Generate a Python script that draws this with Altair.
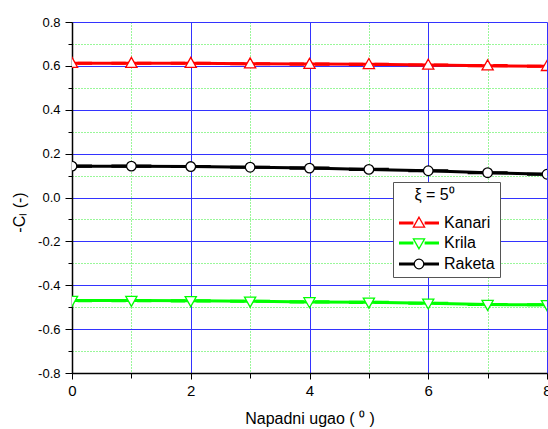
import altair as alt
import pandas as pd

# ---- data ----
angles = [0, 1, 2, 3, 4, 5, 6, 7, 8]
kanari = [0.612, 0.612, 0.612, 0.610, 0.608, 0.607, 0.604, 0.601, 0.598]
krila = [-0.470, -0.470, -0.471, -0.473, -0.476, -0.478, -0.482, -0.488, -0.489]
raketa = [0.143, 0.143, 0.141, 0.138, 0.134, 0.128, 0.122, 0.113, 0.106]

series_names = ["Kanari", "Krila", "Raketa"]
series_colors = ["#ff0000", "#00ff00", "#000000"]

major_x = [0, 2, 4, 6, 8]
minor_x = [1, 3, 5, 7]
major_y = [-0.8, -0.6, -0.4, -0.2, 0.0, 0.2, 0.4, 0.6, 0.8]
minor_y = [-0.7, -0.5, -0.3, -0.1, 0.1, 0.3, 0.5, 0.7]

# ---- marker symbols: short line stubs + hollow marker (used in plot and legend) ----
def stubs(e):
    s = ""
    for dy in (-0.09, 0, 0.09):
        s += f"M -2 {dy} L {-e} {dy} M {e} {dy} L 2 {dy} "
    return s

sym_up = stubs(0.56) + "M 0 -0.58 L 0.56 0.42 L -0.56 0.42 Z"
sym_down = stubs(0.56) + "M 0 0.58 L 0.56 -0.42 L -0.56 -0.42 Z"
sym_circle = stubs(0.48) + "M 0.48 0 A 0.48 0.48 0 1 1 -0.48 0 A 0.48 0.48 0 1 1 0.48 0 Z"
series_shapes = [sym_up, sym_down, sym_circle]

df = pd.DataFrame({
    "angle": angles * 3,
    "value": kanari + krila + raketa,
    "series": [n for n in series_names for _ in angles],
})

FONT = "Liberation Sans"
xdom = [0, 8]
ydom = [-0.8, 0.8]
LEGEND_TITLE = "\u2800\u00a0\u03be = 5\u2070"
MINUS_FIX = "replace(format(datum.value, '.1f'), '\u2212', '-')"


def xscale():
    return alt.Scale(domain=xdom, nice=False, zero=False)


def yscale():
    return alt.Scale(domain=ydom, nice=False, zero=False)


GRID_BLUE = "#3333ff"
GRID_GREEN = "#33ee33"

x_main = alt.Axis(
    orient="bottom", values=major_x, format="d", title="Napadni ugao ( \u2070 )",
    grid=True, gridColor=GRID_BLUE, gridWidth=1,
    tickSize=6, tickColor="black", tickWidth=1,
    domainColor="black", domainWidth=1.5,
    labelFontSize=15, labelFont=FONT, labelColor="black", labelPadding=4, labelFlush=False,
    titleFontSize=16, titleFont=FONT, titleFontWeight="normal", titleColor="black", titlePadding=12,
)
y_main = alt.Axis(
    orient="left", values=major_y, labelExpr=MINUS_FIX, title="-C\u2097 (-)",
    grid=True, gridColor=GRID_BLUE, gridWidth=1,
    tickSize=7, tickColor="black", tickWidth=1,
    domainColor="black", domainWidth=1.5,
    labelFontSize=13, labelFont=FONT, labelColor="black", labelPadding=5,
    titleFontSize=16, titleFont=FONT, titleFontWeight="normal", titleColor="black",
    titlePadding=10, titleY=190,
)
x_minor = alt.Axis(
    orient="bottom", values=minor_x, labels=False, title=None, domain=False,
    grid=True, gridColor=GRID_GREEN, gridDash=[1, 2], gridWidth=1,
    tickSize=5, tickColor="black", tickWidth=1,
)
y_minor = alt.Axis(
    orient="left", values=minor_y, labels=False, title=None, domain=False,
    grid=True, gridColor=GRID_GREEN, gridDash=[1, 2], gridWidth=1,
    tickSize=4, tickColor="black", tickWidth=1,
)

minor_layer = alt.Chart(df).mark_point(opacity=0).encode(
    x=alt.X("angle:Q", scale=xscale(), axis=x_minor),
    y=alt.Y("value:Q", scale=yscale(), axis=y_minor),
)

color_scale = alt.Scale(domain=series_names, range=series_colors)

legend = alt.Legend(
    title=LEGEND_TITLE, orient="none", legendX=321, legendY=160, direction="vertical",
    symbolSize=400, symbolStrokeWidth=1.3, symbolFillColor="white", symbolOffset=10,
    labelFontSize=16, labelFont=FONT, labelColor="black", labelOffset=14,
    titleFontSize=16, titleFont=FONT, titleFontWeight="normal", titleColor="black",
    titleAnchor="start", titlePadding=9,
    padding=5, strokeColor="#555555", fillColor="white", cornerRadius=0, rowPadding=1,
)

lines = alt.Chart(df).mark_line(strokeWidth=3, clip=True).encode(
    x=alt.X("angle:Q", scale=xscale(), axis=x_main),
    y=alt.Y("value:Q", scale=yscale(), axis=y_main),
    color=alt.Color("series:N", scale=color_scale, title=LEGEND_TITLE, legend=legend),
)

points = alt.Chart(df).mark_point(filled=False, fill="white", fillOpacity=1, size=400,
                                  strokeWidth=1.3, clip=True).encode(
    x=alt.X("angle:Q", scale=xscale(), axis=None),
    y=alt.Y("value:Q", scale=yscale(), axis=None),
    color=alt.Color("series:N", scale=color_scale, title=LEGEND_TITLE, legend=legend),
    shape=alt.Shape("series:N", scale=alt.Scale(domain=series_names, range=series_shapes),
                    title=LEGEND_TITLE, legend=legend),
)

chart = alt.layer(minor_layer, lines, points).resolve_scale(
    x="independent", y="independent"
).resolve_axis(
    x="independent", y="independent"
).properties(
    width=475, height=351,
    autosize=alt.AutoSizeParams(type="none"),
    padding={"left": 72, "top": 22, "right": 1, "bottom": 56},
).configure_view(
    stroke="#888888", strokeWidth=1
).configure(font=FONT, background="white")

chart.save("out.html", embed_options={"renderer": "svg", "actions": False})
